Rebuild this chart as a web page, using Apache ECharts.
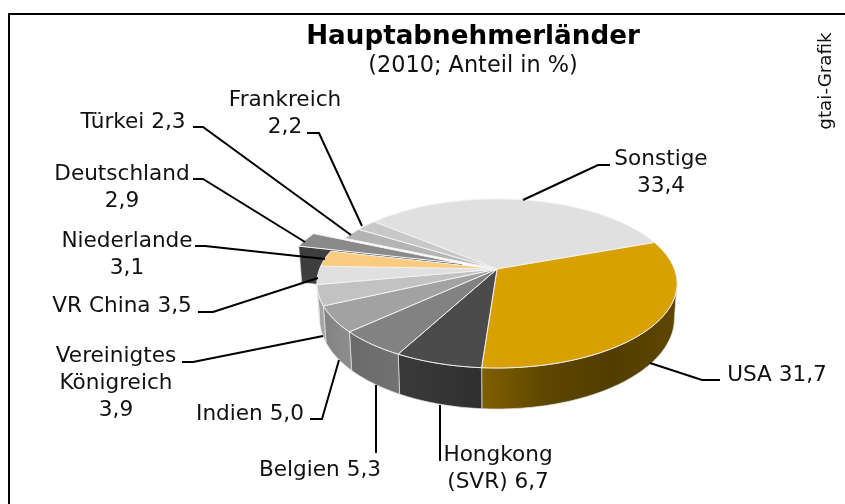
<!DOCTYPE html>
<html lang="de">
<head>
    <meta charset="UTF-8">
    <title>Hauptabnehmerländer</title>
    <style>
        html, body { margin: 0; padding: 0; background: #fff; }
    </style>
</head>
<body>
<div id="main" style="width: 845px;height:504px;"></div>
<script src="https://cdn.jsdelivr.net/npm/echarts@6/dist/echarts.min.js"></script>
<script>
    // clockwise, Sonstige ends where USA starts
    var categories = ['Sonstige', 'USA', 'Hongkong\n(SVR)', 'Belgien', 'Indien', 'Vereinigtes\nKönigreich',
        'VR China', 'Niederlande', 'Deutschland', 'Türkei', 'Frankreich'];
    var shares = [33.4, 31.7, 6.7, 5.3, 5.0, 3.9, 3.5, 3.1, 2.9, 2.3, 2.2];
    var separators = ['\n', ' ', ' ', ' ', ' ', '\n', ' ', '\n', '\n', ' ', '\n'];

    var topColors = ['#e0e0e0', '#d9a100', '#4b4b4b', '#828282', '#a2a2a2', '#c2c2c2',
        '#e0e0e0', '#fbcb80', '#8a8a8a', '#b4b4b4', '#c8c8c8'];
    var sideColors = [
        ['#9c9c9c', '#9c9c9c'],
        ['#7f6000', '#5e4600', '#523d00', '#5f4700'],
        ['#3a3a3a', '#2f2f2f'],
        ['#6a6a6a', '#727272'],
        ['#828282', '#8e8e8e'],
        ['#a0a0a0', '#a8a8a8'],
        ['#a8a8a8', '#a8a8a8'],
        ['#a8a8a8', '#a8a8a8'],
        ['#3e3e3e', '#3e3e3e'],
        ['#808080', '#808080'],
        ['#808080', '#808080']
    ];

    // label anchor (centre of the text block) and leader line per category
    var labelPos = [[661, 173], [777, 375], [498, 469], [320, 470], [250, 414], [116, 383],
        [122, 306], [127, 255], [122, 188], [133, 122], [285, 114]];
    var leaders = [
        [[523, 200], [598, 165], [610, 165]],
        [[650, 363], [702, 380], [720, 380]],
        [[440, 405], [440, 461]],
        [[376, 385], [376, 453]],
        [[339, 360], [322, 419], [310, 419]],
        [[323, 336], [193, 362], [182, 362]],
        [[318, 278], [213, 312], [198, 312]],
        [[325, 259], [205, 246], [195, 246]],
        [[305, 242], [203, 179], [193, 179]],
        [[351, 235], [203, 127], [193, 127]],
        [[362, 226], [319, 133], [307, 133]]
    ];

    // perspective disc: apex of the pie, half axes, tilt
    var apexX = 497, apexY = 269, radX = 177.4, radY = 82, tilt = 0.1716;
    var thick = 34, bottomScale = 0.985;
    var startAngle = 20;
    var explodedIndex = 8, explode = 0.21, explodedExtra = 4;

    function project(u, v, low) {
        var w = 1 - tilt * v;
        var x = radX * u / w, y = radY * v / w;
        if (low) {
            x *= bottomScale;
            y += thick / w;
        }
        return [apexX + x, apexY + y];
    }
    function rimPoint(deg, du, dv, low) {
        var r = deg * Math.PI / 180;
        return project(Math.cos(r) + du, -Math.sin(r) + dv, low);
    }
    function arc(a0, a1, du, dv, low) {
        var pts = [], n = Math.max(2, Math.ceil(Math.abs(a1 - a0)));
        for (var i = 0; i <= n; i++) {
            pts.push(rimPoint(a0 + (a1 - a0) * i / n, du, dv, low));
        }
        return pts;
    }

    var total = shares.reduce(function (a, b) { return a + b; }, 0);
    var visibleEdge = Math.asin(tilt) * 180 / Math.PI;

    function renderSlice(params, api) {
        var i = params.dataIndex;
        var sweep = api.value(0) / total * 360;
        // USA starts at startAngle and runs clockwise, Sonstige fills up to startAngle + its sweep
        var a0, a1;
        if (i === 0) {
            a0 = startAngle + sweep;
            a1 = startAngle;
        } else {
            var before = 0;
            for (var k = 1; k < i; k++) before += shares[k];
            a0 = startAngle - before / total * 360;
            a1 = a0 - sweep;
        }
        var du = 0, dv = 0;
        var pulled = i === explodedIndex;
        if (pulled) {
            var mid = (a0 + a1) / 2 * Math.PI / 180;
            du = Math.cos(mid) * explode;
            dv = -Math.sin(mid) * explode;
        }
        var children = [];
        var layer = pulled ? 0 : 1;

        if (pulled) {
            // cut face of the pulled-out wedge, the only wall that shows
            var rimLow = rimPoint(a0, du, dv, true);
            var apexLow = project(du, dv, true);
            children.push({
                type: 'polygon', z2: layer,
                shape: {points: [rimPoint(a0, du, dv, false), project(du, dv, false),
                    [apexLow[0], apexLow[1] + explodedExtra], [rimLow[0], rimLow[1] + explodedExtra]]},
                style: {fill: sideColors[i][0], stroke: '#d8d8d8', lineWidth: 0.6}
            });
        } else {
            // outer wall, only where the rim faces the viewer
            var lo = Math.max(a1, -180 + visibleEdge);
            var hi = Math.min(a0, -visibleEdge);
            if (hi > lo) {
                var cols = sideColors[i];
                var stops = cols.map(function (c, n) {
                    return {offset: n / (cols.length - 1), color: c};
                });
                children.push({
                    type: 'polygon', z2: layer,
                    shape: {points: arc(hi, lo, 0, 0, false).concat(arc(lo, hi, 0, 0, true))},
                    style: {
                        fill: new echarts.graphic.LinearGradient(0, 0, 1, 0, stops),
                        stroke: '#e4e4e4', lineWidth: 0.7
                    }
                });
            }
        }

        // top face
        children.push({
            type: 'polygon', z2: layer + 1,
            shape: {points: [project(du, dv, false)].concat(arc(a0, a1, du, dv, false))},
            style: {fill: topColors[i], stroke: '#f2f2f2', lineWidth: 1}
        });
        return {type: 'group', children: children};
    }

    var graphics = [
        {
            type: 'polyline', silent: true,
            shape: {points: [[9, 504], [9, 14], [845, 14]]},
            style: {stroke: '#000', lineWidth: 2, fill: null}
        },
        {
            type: 'text', x: 826, y: 81, rotation: Math.PI / 2,
            style: {
                text: 'gtai-Grafik', fill: '#111', textAlign: 'center', textVerticalAlign: 'middle',
                font: '18.3px "DejaVu Sans"'
            }
        }
    ];
    categories.forEach(function (name, i) {
        graphics.push({
            type: 'polyline', silent: true, z: 20,
            shape: {points: leaders[i]},
            style: {stroke: '#000', lineWidth: 2, fill: null}
        });
        graphics.push({
            type: 'text', x: labelPos[i][0], y: labelPos[i][1],
            style: {
                text: name + separators[i] + shares[i].toFixed(1).replace('.', ','),
                fill: '#111', textAlign: 'center', textVerticalAlign: 'middle',
                font: '21.6px "DejaVu Sans"', lineHeight: 27
            }
        });
    });

    var myChart = echarts.init(document.getElementById('main'), null, {renderer: 'canvas'});

    var option = {
        animation: false,
        title: {
            text: 'Hauptabnehmerländer',
            subtext: '(2010; Anteil in %)',
            left: 473,
            top: 24,
            textAlign: 'center',
            itemGap: 5,
            padding: 0,
            textStyle: {fontFamily: 'DejaVu Sans', fontWeight: 'bold', fontSize: 26.2, color: '#000'},
            subtextStyle: {fontFamily: 'DejaVu Sans', fontSize: 22.4, color: '#111'}
        },
        graphic: graphics,
        series: [
            {
                type: 'custom',
                coordinateSystem: 'none',
                silent: true,
                z: 3,
                renderItem: renderSlice,
                data: shares.map(function (s) { return [s]; })
            }
        ]
    };

    myChart.setOption(option);
</script>
</body>
</html>
